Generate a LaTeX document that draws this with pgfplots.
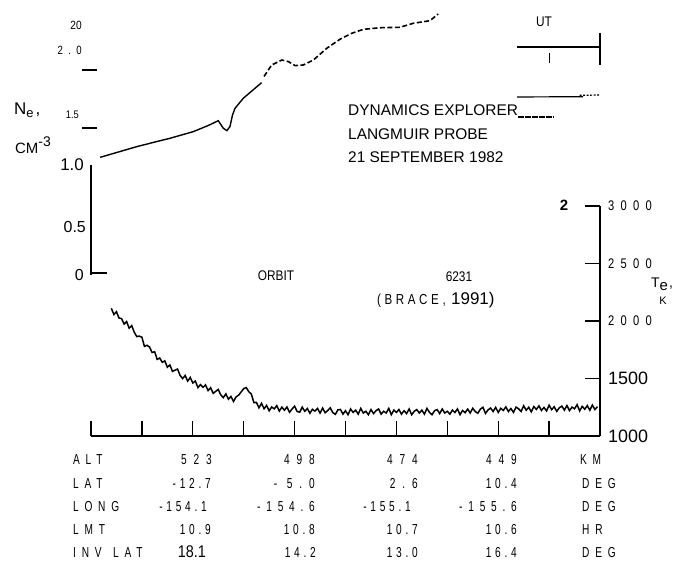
\documentclass[border=0pt]{standalone}
\usepackage{fontspec}
\setmainfont{Liberation Sans}
\usepackage{pgfplots}
\pgfplotsset{compat=1.18}
\newfontfamily\tabl[FakeStretch=0.7,LetterSpace=40]{Liberation Sans}
\newfontfamily\tabn[FakeStretch=0.7,LetterSpace=26]{Liberation Sans}
\newfontfamily\tabw[FakeStretch=0.7,LetterSpace=48]{Liberation Sans}
\newfontfamily\cond[FakeStretch=0.85]{Liberation Sans}
\newfontfamily\spaced[FakeStretch=0.8,LetterSpace=25]{Liberation Sans}
\newfontfamily\tickf[FakeStretch=0.8,LetterSpace=45]{Liberation Sans}
\newcommand\tl{\fontsize{14.5}{14.5}\tabl}
\newcommand\tn{\fontsize{14.5}{14.5}\tabn}
\newcommand\tw{\fontsize{14.5}{14.5}\tabw}

\begin{document}
\begin{tikzpicture}
\path[use as bounding box] (0bp,0bp) rectangle (684bp,561bp);

% ---------------- electron temperature panel ----------------
\begin{axis}[
  at={(91bp,125bp)}, anchor=south west,
  scale only axis, width=509bp, height=230bp,
  xmin=0, xmax=10, ymin=1000, ymax=3000,
  clip=false,
  axis x line*=bottom, axis y line*=right,
  axis line style={line width=1.7bp, black},
  xtick={0,...,9}, xticklabels={},
  ytick={1000,1500,2000,2500,3000},
  yticklabels={{\fontsize{18}{18}\selectfont 1000},
               {\fontsize{18}{18}\selectfont 1500},
               {\fontsize{14}{14}\tickf 2000},
               {\fontsize{14}{14}\tickf 2500},
               {\fontsize{14}{14}\tickf 3000}},
  yticklabel style={anchor=west, inner sep=0pt, xshift=8bp},
  tick align=inside, major tick length=15bp,
  tick style={line width=1.3bp, black},
]
\addplot[black, line width=1.5bp] coordinates {
(0.40,2110) (0.45,2056) (0.50,2081) (0.55,2026) (0.60,2021) (0.65,1973)
(0.70,1995) (0.75,1937) (0.80,1960) (0.85,1902) (0.90,1864) (0.95,1869)
(1.00,1859) (1.05,1779) (1.10,1789) (1.15,1774) (1.20,1726) (1.25,1733)
(1.30,1666) (1.35,1678) (1.40,1641) (1.45,1653) (1.50,1598) (1.55,1618)
(1.60,1562) (1.65,1572) (1.70,1582) (1.75,1527) (1.80,1499) (1.85,1526)
(1.90,1477) (1.95,1509) (2.00,1461) (2.05,1478) (2.10,1421) (2.15,1447)
(2.20,1423) (2.25,1444) (2.30,1395) (2.35,1420) (2.40,1371) (2.45,1388)
(2.50,1405) (2.55,1357) (2.60,1334) (2.65,1366) (2.70,1320) (2.75,1344)
(2.80,1300) (2.85,1340) (2.90,1355) (2.95,1383) (3.00,1412) (3.05,1421)
(3.10,1385) (3.15,1365) (3.20,1290) (3.25,1292) (3.30,1245) (3.35,1284)
(3.40,1237) (3.45,1266) (3.50,1219) (3.55,1252) (3.60,1236) (3.65,1264)
(3.70,1217) (3.75,1251) (3.80,1224) (3.85,1252) (3.90,1206) (3.95,1235)
(4.00,1259) (4.05,1213) (4.10,1207) (4.15,1251) (4.20,1215) (4.25,1239)
(4.30,1198) (4.35,1232) (4.40,1216) (4.45,1240) (4.50,1199) (4.55,1243)
(4.60,1202) (4.65,1221) (4.70,1245) (4.75,1204) (4.80,1188) (4.85,1227)
(4.90,1231) (4.95,1190) (5.00,1220) (5.05,1185) (5.10,1235) (5.15,1205)
(5.20,1225) (5.25,1190) (5.30,1240) (5.35,1200) (5.40,1215) (5.45,1185)
(5.50,1230) (5.55,1195) (5.60,1220) (5.65,1235) (5.70,1190) (5.75,1215)
(5.80,1200) (5.85,1240) (5.90,1185) (5.95,1225) (6.00,1205) (6.05,1230)
(6.10,1190) (6.15,1220) (6.20,1195) (6.25,1235) (6.30,1185) (6.35,1215)
(6.40,1230) (6.45,1200) (6.50,1225) (6.55,1190) (6.60,1240) (6.65,1205)
(6.70,1185) (6.75,1220) (6.80,1230) (6.85,1195) (6.90,1235) (6.95,1200)
(7.00,1215) (7.05,1190) (7.10,1225) (7.15,1205) (7.20,1235) (7.25,1185)
(7.30,1222) (7.35,1203) (7.40,1234) (7.45,1200) (7.50,1241) (7.55,1212)
(7.60,1198) (7.65,1234) (7.70,1250) (7.75,1196) (7.80,1227) (7.85,1243)
(7.90,1213) (7.95,1249) (8.00,1205) (8.05,1241) (8.10,1222) (8.15,1253)
(8.20,1213) (8.25,1239) (8.30,1205) (8.35,1251) (8.40,1237) (8.45,1213)
(8.50,1263) (8.55,1224) (8.60,1250) (8.65,1210) (8.70,1256) (8.75,1231)
(8.80,1262) (8.85,1222) (8.90,1248) (8.95,1218) (9.00,1268) (9.05,1229)
(9.10,1254) (9.15,1214) (9.20,1245) (9.25,1260) (9.30,1225) (9.35,1265)
(9.40,1221) (9.45,1251) (9.50,1237) (9.55,1272) (9.60,1218) (9.65,1258)
(9.70,1233) (9.75,1264) (9.80,1224) (9.85,1269) (9.90,1230) (9.95,1255)
};
\end{axis}

% ---------------- electron density panel ----------------
\begin{axis}[
  at={(91bp,288bp)}, anchor=south west,
  scale only axis, width=509bp, height=270bp,
  xmin=0, xmax=10, ymin=0, ymax=2.5,
  axis lines=none, clip=false,
]
\addplot[black, line width=1.4bp] coordinates {
(0.18,1.071) (0.50,1.115) (0.90,1.170) (1.25,1.212) (1.55,1.247)
(2.01,1.309) (2.30,1.365) (2.50,1.410) (2.60,1.340) (2.67,1.318)
(2.73,1.355) (2.78,1.463) (2.83,1.525) (2.99,1.617) (3.35,1.762)
};
\addplot[black, line width=1.6bp, dash pattern=on 5bp off 2.5bp] coordinates {
(3.40,1.820) (3.55,1.926) (3.75,1.972) (3.88,1.957) (4.01,1.920)
(4.17,1.926) (4.37,1.972) (4.63,2.080) (4.89,2.164) (5.12,2.219)
(5.35,2.256) (5.68,2.271) (6.07,2.275) (6.33,2.312) (6.66,2.336)
(6.82,2.398)
};
\addplot[black, line width=1.2bp] coordinates {(8.37,1.630) (9.67,1.632)};
\addplot[black, line width=1.2bp, dash pattern=on 2bp off 1.5bp] coordinates {(9.60,1.645) (10.0,1.648)};
\addplot[black, line width=1.2bp, dash pattern=on 6bp off 1bp] coordinates {(8.39,1.444) (9.08,1.444)};
\draw[line width=1.7bp] (axis cs:0,-0.02) -- (axis cs:0,1.0);
\draw[line width=1.3bp] (axis cs:0,0) -- (axis cs:0.32,0);
\end{axis}

% ---------------- annotations ----------------
\begin{scope}[x=1bp, y=-1bp, shift={(0,-561)}]
  % density scale labels
  \node[anchor=base west, inner sep=0pt] at (14,115)
    {\fontsize{17}{17}\selectfont N\raisebox{-3bp}{\fontsize{13}{13}\selectfont e}\hspace{2bp},};
  \node[anchor=base west, inner sep=0pt] at (15,154)
    {\fontsize{15}{15}\selectfont CM\raisebox{7bp}{\fontsize{14}{14}\selectfont -3}};
  \node[anchor=base east, inner sep=0pt] at (82,30) {\fontsize{12}{12}\cond 20};
  \node[anchor=base east, inner sep=0pt] at (82,55) {\fontsize{12}{12}\tickf 2.0};
  \node[anchor=base east, inner sep=0pt] at (79,119) {\fontsize{11}{11}\cond 1.5};
  \node[anchor=base east, inner sep=0pt] at (84,171) {\fontsize{17}{17}\selectfont 1.0};
  \node[anchor=base east, inner sep=0pt] at (86,232) {\fontsize{16}{16}\selectfont 0.5};
  \node[anchor=base east, inner sep=0pt] at (84,280) {\fontsize{16}{16}\selectfont 0};
  \draw[line width=1.2bp] (82,70) -- (97,70);
  \draw[line width=1.2bp] (82,128) -- (97,128);

  % UT scale
  \node[inner sep=0pt] at (544,22) {\fontsize{14}{14}\cond UT};
  \draw[line width=1.8bp] (517,47) -- (600,47);
  \draw[line width=1.8bp] (600,33) -- (600,65);
  \draw[line width=0.8bp] (549,53) -- (549,63);

  % title block
  \node[anchor=base west, inner sep=0pt] at (348,115.5) {\fontsize{15.5}{15.5}\selectfont DYNAMICS EXPLORER};
  \node[anchor=base west, inner sep=0pt] at (348,140) {\fontsize{15.5}{15.5}\selectfont LANGMUIR PROBE};
  \node[anchor=base west, inner sep=0pt] at (348,163) {\fontsize{15.5}{15.5}\selectfont 21 SEPTEMBER 1982};

  \node[inner sep=0pt] at (276,276) {\fontsize{14}{14}\cond ORBIT};
  \node[inner sep=0pt] at (459,277) {\fontsize{14}{14}\cond 6231};
  \node[anchor=base west, inner sep=0pt] at (377,304) {\fontsize{14.5}{14.5}\spaced (BRACE,};
  \node[anchor=base west, inner sep=0pt] at (451,304) {\fontsize{17}{17}\selectfont 1991)};

  % temperature scale labels
  \node[inner sep=0pt] at (564,205) {\fontsize{15}{15}\bfseries 2};
  \node[anchor=base west, inner sep=0pt] at (651,287)
    {\fontsize{14}{14}\selectfont T\raisebox{-3bp}{\fontsize{15}{15}\selectfont e}\hspace{1bp},};
  \node[inner sep=0pt] at (663,301) {\fontsize{11}{11}\selectfont K};

  % orbit parameter table
  \node[anchor=base west, inner sep=0pt] at (73,464) {\tl ALT};
  \node[anchor=base west, inner sep=0pt] at (73,488) {\tl LAT};
  \node[anchor=base west, inner sep=0pt] at (73,511) {\tl LONG};
  \node[anchor=base west, inner sep=0pt] at (73,534) {\tl LMT};
  \node[anchor=base west, inner sep=0pt] at (73,557) {\tl INV\hspace{3bp} LAT};

  \node[anchor=base east, inner sep=0pt] at (212,464) {\tw 523};
  \node[anchor=base east, inner sep=0pt] at (315,464) {\tw 498};
  \node[anchor=base east, inner sep=0pt] at (418,464) {\tw 474};
  \node[anchor=base east, inner sep=0pt] at (517,464) {\tw 449};
  \node[anchor=base west, inner sep=0pt] at (580,464) {\tl KM};

  \node[anchor=base east, inner sep=0pt] at (211,488) {\tn -12.7};
  \node[anchor=base east, inner sep=0pt] at (315,488) {\tw - 5.0};
  \node[anchor=base east, inner sep=0pt] at (418,488) {\tw 2.6};
  \node[anchor=base east, inner sep=0pt] at (517,488) {\tn 10.4};
  \node[anchor=base west, inner sep=0pt] at (582,488) {\tl DEG};

  \node[anchor=base east, inner sep=0pt] at (207,511) {\tn -154.1};
  \node[anchor=base east, inner sep=0pt] at (315,511) {\tl -154.6};
  \node[anchor=base east, inner sep=0pt] at (411,511) {\tn -155.1};
  \node[anchor=base east, inner sep=0pt] at (517,511) {\tl -155.6};
  \node[anchor=base west, inner sep=0pt] at (582,511) {\tl DEG};

  \node[anchor=base east, inner sep=0pt] at (211,534) {\tn 10.9};
  \node[anchor=base east, inner sep=0pt] at (315,534) {\tn 10.8};
  \node[anchor=base east, inner sep=0pt] at (418,534) {\tn 10.7};
  \node[anchor=base east, inner sep=0pt] at (517,534) {\tn 10.6};
  \node[anchor=base west, inner sep=0pt] at (582,534) {\tl HR};

  \node[anchor=base east, inner sep=0pt] at (206,557) {\fontsize{17}{17}\cond 18.1};
  \node[anchor=base east, inner sep=0pt] at (316,557) {\tn 14.2};
  \node[anchor=base east, inner sep=0pt] at (418,557) {\tn 13.0};
  \node[anchor=base east, inner sep=0pt] at (517,557) {\tn 16.4};
  \node[anchor=base west, inner sep=0pt] at (582,557) {\tl DEG};
\end{scope}
\end{tikzpicture}
\end{document}
